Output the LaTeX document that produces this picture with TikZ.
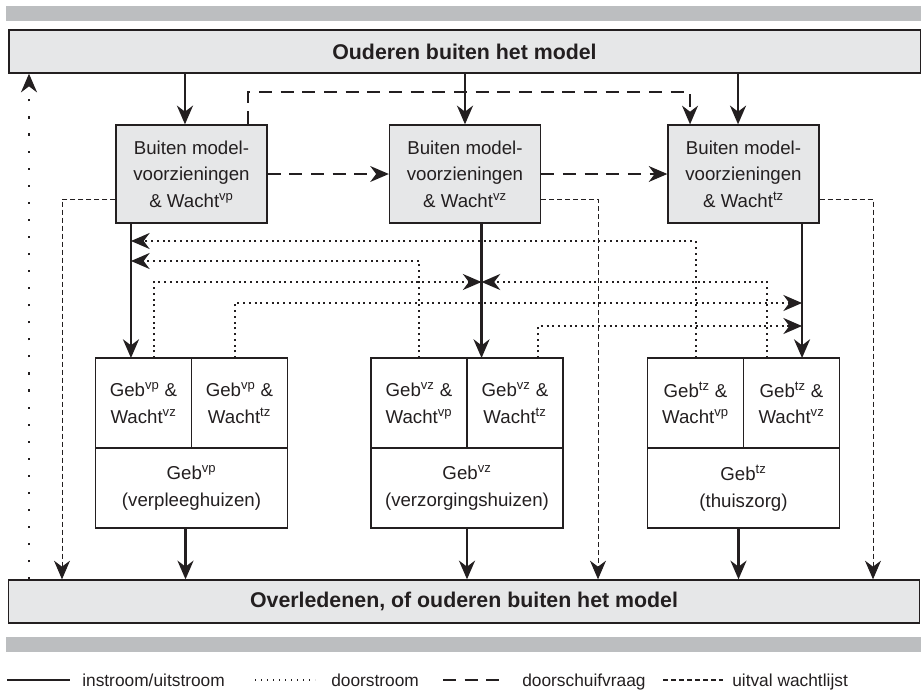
\documentclass[tikz,border=0pt]{standalone}
\usepackage{fontspec}
\setmainfont{Liberation Sans}
\usetikzlibrary{arrows.meta,positioning}
\definecolor{boxgray}{HTML}{E6E7E8}
\definecolor{bargray}{HTML}{BCBEC0}
\definecolor{ink}{HTML}{231F20}
\begin{document}
\begin{tikzpicture}[x=0.75pt, y=-0.75pt, >={Stealth[length=14pt, width=12pt, inset=4.5pt]}]
	% Node style
	\tikzstyle{outer} = [rectangle, draw=ink, line width=1pt, fill=boxgray, minimum width=683.5pt, minimum height=32.25pt, font=\fontsize{16}{19}\selectfont\bfseries, text=ink]
	\tikzstyle{buiten} = [rectangle, draw=ink, line width=1pt, fill=boxgray, minimum width=113.25pt, minimum height=73.5pt, align=center, font=\fontsize{14}{20}\selectfont, text=ink]
	\tikzstyle{sub} = [rectangle, draw=ink, line width=1pt, minimum width=72pt, minimum height=67.5pt, outer sep=0pt, align=center, font=\fontsize{14}{20}\selectfont, text=ink]
	\tikzstyle{geb} = [sub, minimum width=144pt, minimum height=60pt]
	\tikzstyle{flow} = [->, draw=ink, line width=2pt]
	\tikzstyle{schuif} = [->, draw=ink, line width=1pt, dash pattern=on 9.75pt off 6.5pt]
	\tikzstyle{uitval} = [->, draw=ink, line width=0.75pt, dash pattern=on 3.75pt off 2.25pt]
	\tikzstyle{door} = [->, draw=ink, line width=1.5pt, dash pattern=on 1.5pt off 2.8pt]
	\tikzstyle{legend} = [anchor=base west, inner sep=0pt, font=\fontsize{13}{15}\selectfont, text=ink]

	\useasboundingbox (0,0) rectangle (921,689);
	\fill[bargray] (6,6) rectangle (921,21);
	\fill[bargray] (6,637) rectangle (921,652);

	% Nodes
	\node[outer] (top) at (464.5,51.5) {Ouderen buiten het model};
	\node[outer] (uit) at (464,601.5) {Overledenen, of ouderen buiten het model};

	\node[buiten] (bin1) at (191.5,174) {Buiten model-\\voorzieningen\\\& Wacht\textsuperscript{vp}};
	\node[buiten] (bin2) at (465,174) {Buiten model-\\voorzieningen\\\& Wacht\textsuperscript{vz}};
	\node[buiten] (bin3) at (743.5,174) {Buiten model-\\voorzieningen\\\& Wacht\textsuperscript{tz}};

	\node[sub] (vpvz) at (143.5,403) {Geb\textsuperscript{vp} \&\\Wacht\textsuperscript{vz}};
	\node[sub, right=0pt of vpvz] (vptz) {Geb\textsuperscript{vp} \&\\Wacht\textsuperscript{tz}};
	\node[geb, anchor=north] (vp) at (vpvz.south east) {Geb\textsuperscript{vp}\\(verpleeghuizen)};

	\node[sub] (vzvp) at (419,403) {Geb\textsuperscript{vz} \&\\Wacht\textsuperscript{vp}};
	\node[sub, right=0pt of vzvp] (vztz) {Geb\textsuperscript{vz} \&\\Wacht\textsuperscript{tz}};
	\node[geb, anchor=north] (vz) at (vzvp.south east) {Geb\textsuperscript{vz}\\(verzorgingshuizen)};

	\node[sub] (tzvp) at (695.5,403) {Geb\textsuperscript{tz} \&\\Wacht\textsuperscript{vp}};
	\node[sub, right=0pt of tzvp] (tzvz) {Geb\textsuperscript{tz} \&\\Wacht\textsuperscript{vz}};
	\node[geb, anchor=north] (tz) at (tzvp.south east) {Geb\textsuperscript{tz}\\(thuiszorg)};

	% Helper coordinates
	\coordinate (in1) at ([xshift=-4.9pt]bin1.north);
	\coordinate (in3) at ([xshift=-4.1pt]bin3.north);
	\coordinate (o1) at ([xshift=-9.4pt]vpvz.north);
	\coordinate (o2) at ([xshift=-25.1pt]vztz.north);
	\coordinate (o3) at ([xshift=7.9pt]tzvz.north);
	\coordinate (e1) at ([xshift=-4.5pt]vp.south);
	\coordinate (e3) at ([xshift=-3.75pt]tz.south);
	\coordinate (s1) at ([xshift=42.4pt]bin1.north);
	\coordinate (s3) at ([xshift=-40.1pt]bin3.north);
	\coordinate (u1) at ([yshift=-18.75pt]bin1.west);
	\coordinate (u2) at ([yshift=-18.75pt]bin2.east);
	\coordinate (u3) at ([yshift=-18.75pt]bin3.east);
	\coordinate (d1) at ([xshift=7.9pt]vpvz.north);
	\coordinate (d2) at ([xshift=-18.4pt]tzvz.north);
	\coordinate (d3) at ([xshift=-3.4pt]vptz.north);
	\coordinate (d4) at ([xshift=17.6pt]vztz.north);
	\coordinate (c0) at (29,0);
	\coordinate (c1) at (62,0);
	\coordinate (c2) at (598,0);
	\coordinate (c3) at (873,0);
	\coordinate (rs) at (0,92);
	\coordinate (r1) at (0,241);
	\coordinate (r2) at (0,261);
	\coordinate (r3) at (0,282);
	\coordinate (r4) at (0,303);
	\coordinate (r5) at (0,326);

	% Arrows
	\draw[flow] (top.south -| in1) -- (in1);
	\draw[flow] (top.south -| bin2.north) -- (bin2.north);
	\draw[flow] (top.south -| in3) -- (in3);
	\draw[flow] (bin1.south -| o1) -- (o1);
	\draw[flow] (bin2.south -| o2) -- (o2);
	\draw[flow] (bin3.south -| o3) -- (o3);
	\draw[flow] (e1) -- (e1 |- uit.north);
	\draw[flow] (vz.south) -- (vz.south |- uit.north);
	\draw[flow] (e3) -- (e3 |- uit.north);

	\draw[schuif] (bin1.east) -- (bin2.west);
	\draw[schuif] (bin2.east) -- (bin3.west);
	\draw[schuif] (s1) |- (s3 |- rs) -- (s3);

	\draw[uitval] (u1) -| (c1 |- uit.north);
	\draw[uitval] (u2) -| (c2 |- uit.north);
	\draw[uitval] (u3) -| (c3 |- uit.north);

	\draw[door, line width=1.6pt, dash pattern=on 1.6pt off 11.2pt] (c0 |- uit.north) -- (c0 |- top.south);
	\draw[door] (tzvp.north) |- (r1 -| o1);
	\draw[door] (vzvp.north) |- (r2 -| o1);
	\draw[door] (d1) |- (r3 -| o2);
	\draw[door] (d2) |- (r3 -| o2);
	\draw[door] (d3) |- (r4 -| o3);
	\draw[door] (d4) |- (r5 -| o3);

	% Legend
	\draw[draw=ink, line width=1pt] (7,680) -- (70,680);
	\node[legend] (lg1) at (82,686) {instroom/uitstroom};
	\draw[draw=ink, line width=0.8pt, dash pattern=on 0.8pt off 3.7pt] (255,680) -- (315,680);
	\node[legend] (lg2) at (331,686) {doorstroom};
	\draw[draw=ink, line width=1pt, dash pattern=on 9.75pt off 6.5pt] (443,680) -- (505,680);
	\node[legend] (lg3) at (522,686) {doorschuifvraag};
	\draw[draw=ink, line width=0.8pt, dash pattern=on 3.75pt off 2.25pt] (663,680) -- (723,680);
	\node[legend] (lg4) at (732,686) {uitval wachtlijst};
\end{tikzpicture}
\end{document}
